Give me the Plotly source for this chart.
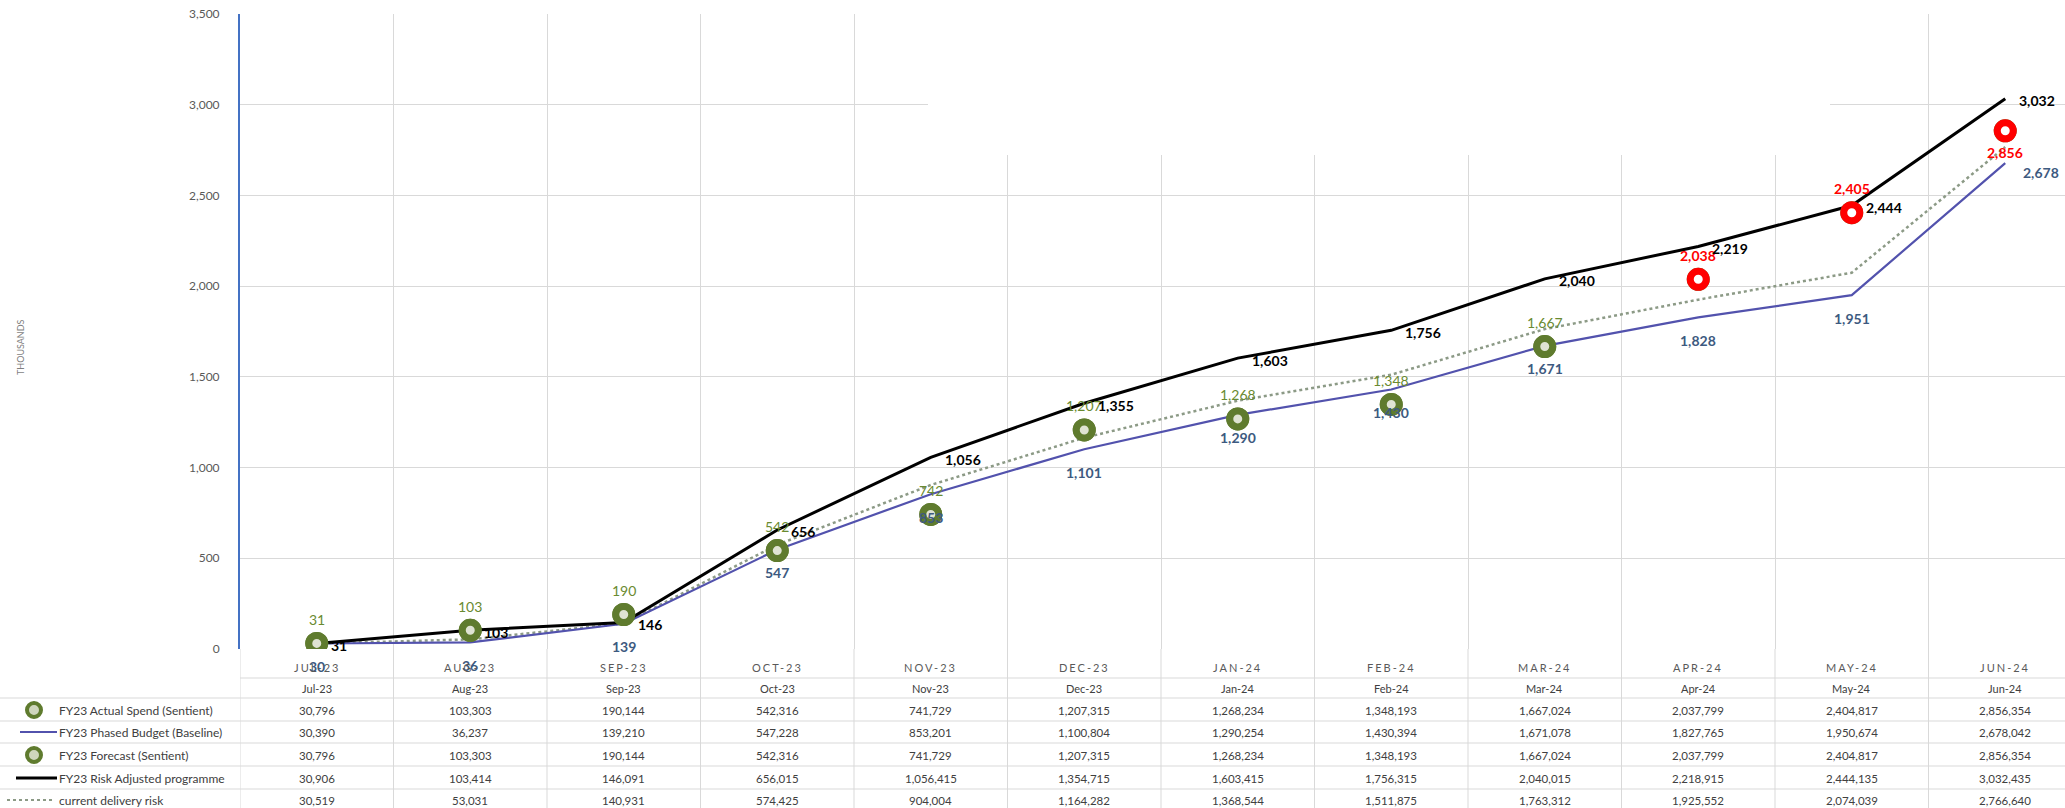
import plotly.graph_objects as go

# ---- data (values in £) ----
months = ["Jul-23", "Aug-23", "Sep-23", "Oct-23", "Nov-23", "Dec-23",
          "Jan-24", "Feb-24", "Mar-24", "Apr-24", "May-24", "Jun-24"]
month_caps = ["JUL-23", "AUG-23", "SEP-23", "OCT-23", "NOV-23", "DEC-23",
              "JAN-24", "FEB-24", "MAR-24", "APR-24", "MAY-24", "JUN-24"]

actual_spend = [30796, 103303, 190144, 542316, 741729, 1207315,
                1268234, 1348193, 1667024, 2037799, 2404817, 2856354]
phased_budget = [30390, 36237, 139210, 547228, 853201, 1100804,
                 1290254, 1430394, 1671078, 1827765, 1950674, 2678042]
forecast = [30796, 103303, 190144, 542316, 741729, 1207315,
            1268234, 1348193, 1667024, 2037799, 2404817, 2856354]
risk_adjusted = [30906, 103414, 146091, 656015, 1056415, 1354715,
                 1603415, 1756315, 2040015, 2218915, 2444135, 3032435]
delivery_risk = [30519, 53031, 140931, 574425, 904004, 1164282,
                 1368544, 1511875, 1763312, 1925552, 2074039, 2766640]

series_names = ["FY23 Actual Spend (Sentient)", "FY23 Phased Budget (Baseline)",
                "FY23 Forecast (Sentient)", "FY23 Risk Adjusted programme",
                "current delivery risk"]
series_values = [actual_spend, phased_budget, forecast, risk_adjusted, delivery_risk]

first_forecast_month = 9  # Apr-24 onwards is forecast

# ---- styling ----
FONT = "Lato, 'Liberation Sans', Arial, sans-serif"
GREEN = "#5f7b2e"
GREEN_TXT = "#6a8a30"
RED = "#ff0000"
BLUE = "#5252ad"
BLUE_TXT = "#3d5a80"
DOT = "#8c9a86"
GRID = "#d9d9d9"
TXT = "#404040"

W, H = 2065, 808
L, R, T, B = 240, 2065, 14, 649
x_range = [-0.5, -0.5 + (R - L) / 153.5]


def px_x(px):
    return (px - L) / (R - L)


def px_y(py):
    return (B - py) / (B - T)


idx = list(range(len(months)))
k = lambda vals: [v / 1000 for v in vals]
fmt_k = lambda v: f"{round(v / 1000):,}"

fig = go.Figure()

fig.add_trace(go.Scatter(x=idx, y=k(delivery_risk), mode="lines",
                         line=dict(color=DOT, width=2.5, dash="dot"),
                         name=series_names[4]))
fig.add_trace(go.Scatter(x=idx, y=k(phased_budget), mode="lines",
                         line=dict(color=BLUE, width=2.2),
                         name=series_names[1]))
fig.add_trace(go.Scatter(x=idx, y=k(risk_adjusted), mode="lines",
                         line=dict(color="#000000", width=3),
                         name=series_names[3]))
fig.add_trace(go.Scatter(x=idx, y=k(actual_spend), mode="markers",
                         marker=dict(size=16, color="#dfe3d3",
                                     line=dict(color=GREEN, width=7)),
                         name=series_names[0]))
ring_colors = [GREEN if i < first_forecast_month else RED for i in idx]
ring_fill = ["#dfe3d3" if i < first_forecast_month else "#ffffff" for i in idx]
fig.add_trace(go.Scatter(x=idx, y=k(forecast), mode="markers",
                         marker=dict(size=16, color=ring_fill,
                                     line=dict(color=ring_colors, width=7)),
                         name=series_names[2]))

ann = []
shapes = []

# data labels
for i in idx:
    is_fc = i >= first_forecast_month
    last = i == len(idx) - 1
    # forecast / actual spend labels
    ann.append(dict(x=i, y=forecast[i] / 1000, xref="x", yref="y",
                    text=fmt_k(forecast[i]), showarrow=False,
                    xanchor="center", yanchor="middle",
                    yshift=-22 if last else 24,
                    font=dict(family=FONT, size=14,
                              color=RED if is_fc else GREEN_TXT,
                              weight="bold" if is_fc else "normal")))
    # phased budget labels
    ann.append(dict(x=i, y=phased_budget[i] / 1000, xref="x", yref="y",
                    text=fmt_k(phased_budget[i]), showarrow=False,
                    xanchor="left" if last else "center", yanchor="middle",
                    xshift=16 if last else 0, yshift=-9 if last else -23,
                    font=dict(family=FONT, size=14, color=BLUE_TXT, weight="bold")))
    # risk adjusted labels
    ann.append(dict(x=i, y=risk_adjusted[i] / 1000, xref="x", yref="y",
                    text=fmt_k(risk_adjusted[i]), showarrow=False,
                    xanchor="left", yanchor="middle", xshift=12, yshift=-2,
                    font=dict(family=FONT, size=14, color="#000000", weight="bold")))

# category header rows
for i in idx:
    ann.append(dict(x=i, y=px_y(667), xref="x", yref="paper", showarrow=False,
                    text=f"<span style='letter-spacing:2px'>{month_caps[i]}</span>",
                    xanchor="center", yanchor="middle",
                    font=dict(family=FONT, size=11, color="#595959")))
    ann.append(dict(x=i, y=px_y(688), xref="x", yref="paper", showarrow=False,
                    text=months[i], xanchor="center", yanchor="middle",
                    font=dict(family=FONT, size=11, color=TXT)))

# data table
row_y = [710, 732, 755, 778, 800]
for r, vals in enumerate(series_values):
    for i in idx:
        ann.append(dict(x=i, y=px_y(row_y[r]), xref="x", yref="paper",
                        showarrow=False, text=f"{vals[i]:,}",
                        xanchor="center", yanchor="middle",
                        font=dict(family=FONT, size=11.5, color=TXT)))
    ann.append(dict(x=px_x(57), y=px_y(row_y[r]), xref="paper", yref="paper",
                    showarrow=False, text=series_names[r],
                    xanchor="left", yanchor="middle",
                    font=dict(family=FONT, size=12, color=TXT)))

# legend keys in table
for r in (0, 2):
    yc = row_y[r]
    shapes.append(dict(type="circle", xref="paper", yref="paper",
                       x0=px_x(27), x1=px_x(41), y0=px_y(yc + 7), y1=px_y(yc - 7),
                       line=dict(color=GREEN, width=4), fillcolor="#cfd6bd"))
shapes.append(dict(type="line", xref="paper", yref="paper",
                   x0=px_x(20), x1=px_x(57), y0=px_y(row_y[1]), y1=px_y(row_y[1]),
                   line=dict(color=BLUE, width=2)))
shapes.append(dict(type="line", xref="paper", yref="paper",
                   x0=px_x(16), x1=px_x(57), y0=px_y(row_y[3]), y1=px_y(row_y[3]),
                   line=dict(color="#000000", width=3)))
shapes.append(dict(type="line", xref="paper", yref="paper",
                   x0=px_x(7), x1=px_x(53), y0=px_y(row_y[4]), y1=px_y(row_y[4]),
                   line=dict(color=DOT, width=2, dash="dot")))

# table rules
shapes.append(dict(type="line", xref="paper", yref="paper", layer="below",
                   x0=px_x(240), x1=1, y0=px_y(678), y1=px_y(678),
                   line=dict(color=GRID, width=1)))
for yy in (698, 721, 743, 766, 789):
    shapes.append(dict(type="line", xref="paper", yref="paper", layer="below",
                       x0=px_x(0), x1=1, y0=px_y(yy), y1=px_y(yy),
                       line=dict(color=GRID, width=1)))
for b in range(len(idx) + 1):
    shapes.append(dict(type="line", xref="x", yref="paper", layer="below",
                       x0=b - 0.5, x1=b - 0.5, y0=px_y(808), y1=0,
                       line=dict(color=GRID, width=1)))

# blank patch over the upper grid
shapes.append(dict(type="rect", xref="x", yref="y", layer="between",
                   x0=(928 - L) / 153.5 - 0.5, x1=(1830 - L) / 153.5 - 0.5,
                   y0=(B - 155) / ((B - T) / 3500), y1=3600,
                   fillcolor="#ffffff", line=dict(width=0)))

ann.append(dict(x=px_x(20), y=px_y(347), xref="paper", yref="paper",
                showarrow=False, text="THOUSANDS", textangle=-90,
                xanchor="center", yanchor="middle",
                font=dict(family=FONT, size=9, color="#7f7f7f")))

fig.update_layout(
    width=W, height=H,
    margin=dict(l=L, r=W - R, t=T, b=H - B, pad=0),
    paper_bgcolor="#ffffff", plot_bgcolor="rgba(0,0,0,0)",
    showlegend=False,
    annotations=ann, shapes=shapes,
    xaxis=dict(range=x_range, tickvals=[b - 0.5 for b in range(len(idx) + 1)],
               showticklabels=False, showgrid=True, gridcolor=GRID, gridwidth=1,
               zeroline=False, showline=False, ticks=""),
    yaxis=dict(range=[0, 3500], tickvals=list(range(0, 3501, 500)),
               tickformat=",", showgrid=True, gridcolor=GRID, gridwidth=1,
               zeroline=False, showline=True, linecolor="#4472c4", linewidth=2,
               ticks="", ticklabelstandoff=16,
               tickfont=dict(family=FONT, size=12, color="#595959")),
)

fig.write_html("out.html")
